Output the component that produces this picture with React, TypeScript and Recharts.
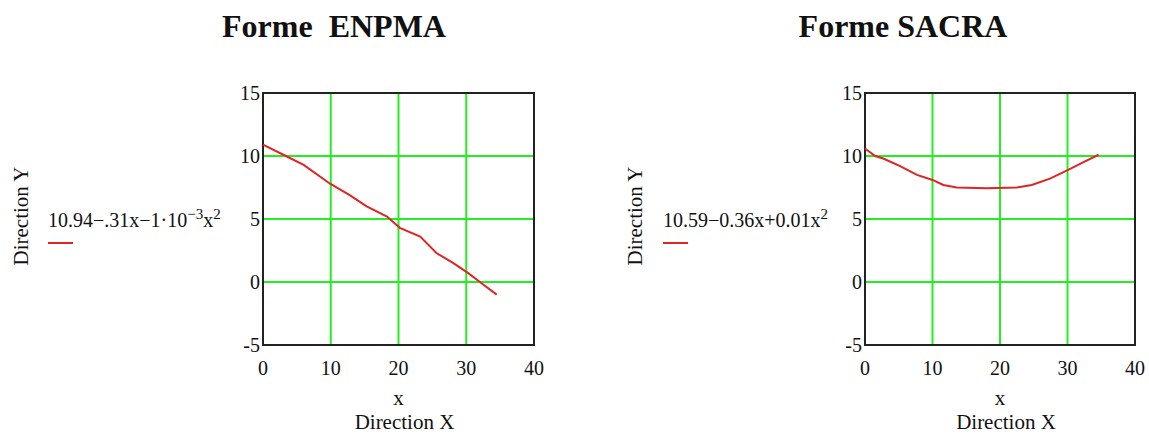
import React from "react";
import {
  LineChart,
  Line,
  XAxis,
  YAxis,
  CartesianGrid,
  ReferenceArea,
} from "recharts";

const xTicks = [0, 10, 20, 30, 40];
const yTicks = [-5, 0, 5, 10, 15];

// Forme ENPMA
const enpmaX = [0, 3, 6, 9.9, 12.8, 15.3, 18.3, 20.2, 23.2, 25.6, 28.1, 30.3, 32.5, 34.5];
const enpmaY = [10.9, 10.1, 9.3, 7.8, 6.9, 6.0, 5.2, 4.3, 3.6, 2.3, 1.5, 0.7, -0.2, -1.0];

// Forme SACRA
const sacraX = [0, 1.5, 2.7, 5.2, 7.7, 10, 11.6, 13.6, 18, 22.5, 24.7, 27.4, 30.1, 32.3, 34.6];
const sacraY = [10.6, 10.0, 9.8, 9.2, 8.5, 8.1, 7.7, 7.5, 7.45, 7.5, 7.7, 8.2, 8.9, 9.5, 10.1];

const FONT = '"Liberation Serif", "Times New Roman", serif';
const GREEN = "#22ee22";
const RED = "#e02424";

const toRows = (xs: number[], ys: number[]) => xs.map((x, i) => ({ x, y: ys[i] }));

interface PanelProps {
  left: number;
  width: number;
  marginLeft: number;
  marginRight: number;
  title: string;
  titleCenter: number;
  rows: { x: number; y: number }[];
  legend: React.ReactNode;
  legendLeft: number;
  dirYCenter: number;
}

function Panel(p: PanelProps) {
  const xLabel = (props: any) => {
    const vb = props.viewBox;
    const cx = vb.x + vb.width / 2;
    return (
      <g fontFamily={FONT} fill="#111" textAnchor="middle">
        <text x={cx} y={vb.y + 60} fontSize={21}>x</text>
        <text x={cx + 6} y={vb.y + 84} fontSize={21}>Direction X</text>
      </g>
    );
  };
  const yLabel = (props: any) => {
    const vb = props.viewBox;
    const cx = p.dirYCenter - p.left;
    const cy = vb.y + vb.height / 2 - 3;
    return (
      <text
        x={cx}
        y={cy}
        transform={`rotate(-90 ${cx} ${cy})`}
        textAnchor="middle"
        dominantBaseline="central"
        fontFamily={FONT}
        fontSize={21}
        fill="#111"
      >
        Direction Y
      </text>
    );
  };
  return (
    <div style={{ position: "absolute", left: p.left, top: 0, width: p.width, height: 434 }}>
      <div
        style={{
          position: "absolute",
          left: p.titleCenter - p.left - 150,
          width: 300,
          top: 8,
          textAlign: "center",
          fontFamily: FONT,
          fontWeight: "bold",
          fontSize: 32,
          whiteSpace: "pre",
          color: "#111",
        }}
      >
        {p.title}
      </div>
      <LineChart
        width={p.width}
        height={434}
        data={p.rows}
        margin={{ top: 93, right: p.marginRight, bottom: 59, left: p.marginLeft }}
        style={{ position: "absolute", left: 0, top: 0 }}
      >
        <CartesianGrid stroke={GREEN} strokeWidth={2} horizontalValues={yTicks} verticalValues={xTicks} />
        <XAxis
          dataKey="x"
          type="number"
          domain={[0, 40]}
          ticks={xTicks}
          height={30}
          axisLine={false}
          tickLine={false}
          tickSize={0}
          tickMargin={16}
          tick={{ fontFamily: FONT, fontSize: 20, fill: "#111" }}
          label={xLabel}
        />
        <YAxis
          type="number"
          domain={[-5, 15]}
          ticks={yTicks}
          width={40}
          axisLine={false}
          tickLine={false}
          tickSize={0}
          tickMargin={3}
          tick={{ fontFamily: FONT, fontSize: 20, fill: "#111" }}
          label={yLabel}
        />
        <ReferenceArea x1={0} x2={40} y1={-5} y2={15} fill="none" stroke="#222" strokeWidth={2} fillOpacity={0} />
        <Line
          dataKey="y"
          type="linear"
          stroke={RED}
          strokeWidth={2}
          dot={false}
          isAnimationActive={false}
        />
      </LineChart>
      <div
        style={{
          position: "absolute",
          left: p.legendLeft - p.left,
          top: 207,
          fontFamily: FONT,
          fontSize: 20,
          color: "#111",
          whiteSpace: "nowrap",
          lineHeight: "26px",
        }}
      >
        <div>{p.legend}</div>
        <div style={{ width: 25, height: 2, background: RED, marginTop: 9 }} />
      </div>
    </div>
  );
}

export default function App() {
  return (
    <div style={{ position: "absolute", left: 0, top: 0, width: 1149, height: 434, background: "#fff" }}>
      <Panel
        left={0}
        width={580}
        marginLeft={223}
        marginRight={46}
        title={"Forme  ENPMA"}
        titleCenter={334}
        rows={toRows(enpmaX, enpmaY)}
        legendLeft={48}
        dirYCenter={21}
        legend={
          <span>
            10.94−.31x−1·10<sup style={{ fontSize: 15, lineHeight: 0 }}>−3</sup>x<sup style={{ fontSize: 15, lineHeight: 0 }}>2</sup>
          </span>
        }
      />
      <Panel
        left={580}
        width={569}
        marginLeft={245}
        marginRight={14}
        title={"Forme SACRA"}
        titleCenter={903}
        rows={toRows(sacraX, sacraY)}
        legendLeft={663}
        dirYCenter={635}
        legend={
          <span>
            10.59−0.36x+0.01x<sup style={{ fontSize: 15, lineHeight: 0 }}>2</sup>
          </span>
        }
      />
    </div>
  );
}
